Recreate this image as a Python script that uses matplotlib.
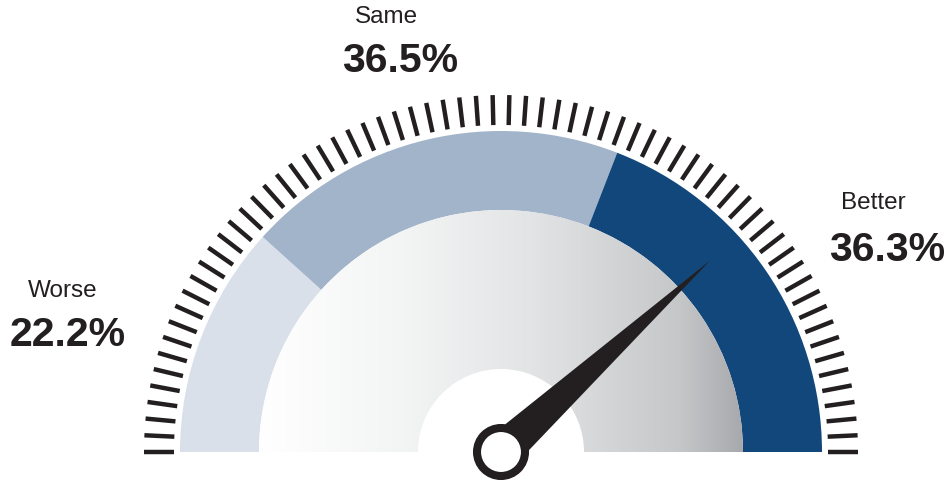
import numpy as np
import matplotlib
matplotlib.use("Agg")
import matplotlib.pyplot as plt
from matplotlib.patches import Wedge, Circle, Polygon
from matplotlib.colors import LinearSegmentedColormap

plt.rcParams['font.family'] = ['Liberation Sans', 'DejaVu Sans']

# data
labels = ["Worse", "Same", "Better"]
shares = [22.2, 36.5, 36.3]
colors = ["#d9e0ea", "#a2b4ca", "#11477b"]
needle_pct = 76.4   # needle position, percent of the dial (left to right)
n_ticks = 68

ink = "#231f20"

fig = plt.figure(figsize=(9.5, 4.83), dpi=100)
ax = fig.add_axes([0, 0, 1, 1])
ax.set_xlim(0, 950)
ax.set_ylim(0, 483)
ax.set_aspect("equal")
ax.axis("off")

cx, cy = 501, 31
r_band_out, r_band_in = 321, 242
r_hub = 83

# coloured band, segments scaled to fill the half circle
total = sum(shares)
start = 180.0
for s, c in zip(shares, colors):
    span = s / total * 180.0
    ax.add_patch(Wedge((cx, cy), r_band_out, start - span, start,
                       width=r_band_out - r_band_in, color=c, lw=0))
    start -= span

# grey gradient face
grad = LinearSegmentedColormap.from_list(
    "face", [(0, "#ffffff"), (0.3, "#f3f4f4"), (0.56, "#e3e4e5"),
             (0.87, "#c6c7c9"), (1, "#a8a9ad")])
face = Wedge((cx, cy), r_band_in, 0, 180, color="none", lw=0)
ax.add_patch(face)
img = ax.imshow(np.linspace(0, 1, 256).reshape(1, -1), cmap=grad,
                extent=[cx - r_band_in, cx + r_band_in, cy, cy + r_band_in],
                aspect="auto", zorder=1)
img.set_clip_path(face)
ax.add_patch(Wedge((cx, cy), r_hub, 0, 180, color="white", lw=0, zorder=2))

# tick marks
for a in np.linspace(0, np.pi, n_ticks):
    ax.plot([cx + 327 * np.cos(a), cx + 357 * np.cos(a)],
            [cy + 327 * np.sin(a), cy + 357 * np.sin(a)],
            color=ink, lw=3.2, solid_capstyle="butt")

# needle
ang = np.pi * (1 - needle_pct / 100)
u = np.array([np.cos(ang), np.sin(ang)])
n = np.array([-u[1], u[0]])
c0 = np.array([cx, cy])
tip = c0 + 283 * u
ax.add_patch(Polygon([c0 + 19 * n, tip, c0 - 19 * n], closed=True,
                     color=ink, lw=0, zorder=4))
ax.add_patch(Circle((cx, cy), 24, facecolor="white", edgecolor=ink,
                    lw=5.8, zorder=5))

# labels
label_pos = [(63, 483 - 291, 68, 483 - 335),
             (386, 483 - 17, 400, 483 - 61),
             (873, 483 - 203, 887, 483 - 250)]
for lab, s, (x1, y1, x2, y2) in zip(labels, shares, label_pos):
    ax.text(x1, y1, lab, ha="center", va="center", fontsize=17.5, color=ink)
    ax.text(x2, y2, f"{s:.1f}%", ha="center", va="center", fontsize=29.5,
            fontweight="bold", color=ink)

fig.savefig("out.png", dpi=100)
